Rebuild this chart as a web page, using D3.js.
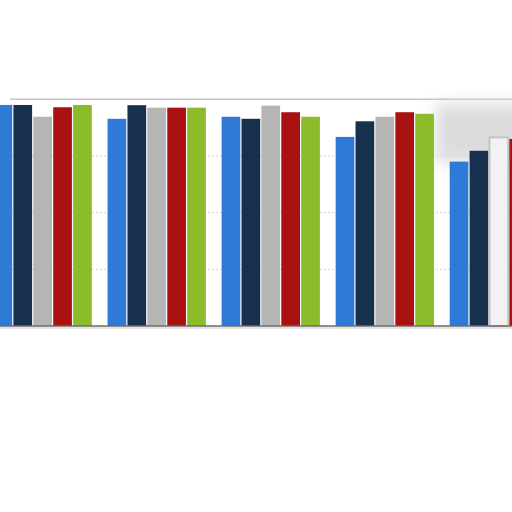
<!DOCTYPE html>
<html>
<head>
<meta charset="utf-8">
<script src="https://cdn.jsdelivr.net/npm/d3@7"></script>
<style>
  html, body { margin: 0; padding: 0; background: #ffffff; }
  svg { display: block; }
</style>
</head>
<body>
<svg id="chart" width="512" height="512"></svg>
<script>
// ---- data ----
const categories = ["Group 1", "Group 2", "Group 3", "Group 4", "Group 5"];
const seriesNames = ["Series A", "Series B", "Series C", "Series D", "Series E"];
const seriesA = [97.5, 91.4, 92.3, 83.4, 72.5];
const seriesB = [97.5, 97.4, 91.4, 90.3, 77.3];
const seriesC = [92.3, 96.3, 97.2, 92.3, 83.2];
const seriesD = [96.5, 96.3, 94.3, 94.3, 82.5];
const seriesE = [97.5, 96.3, 92.3, 93.6, 80.0];
const yTicks = [0, 25, 50, 75, 100];

const seriesValues = [seriesA, seriesB, seriesC, seriesD, seriesE];
const colors = ["#2f7ad6", "#17304d", "#b5b5b5", "#aa1212", "#8cbc2a"];

const svg = d3.select("#chart");
const defs = svg.append("defs");
const blur = defs.append("filter").attr("id", "soft").attr("x", "-30%").attr("y", "-30%").attr("width", "160%").attr("height", "160%");
blur.append("feGaussianBlur").attr("stdDeviation", 8);
const blur2 = defs.append("filter").attr("id", "soft2");
blur2.append("feGaussianBlur").attr("stdDeviation", 1.5);

const baseY = 326, topY = 99.3;
const y = d3.scaleLinear().domain([0, 100]).range([baseY, topY]);
const x0 = d3.scaleBand().domain(categories).range([-6.5, 548]).paddingInner(0.138).paddingOuter(0);
const x1 = d3.scaleBand().domain(seriesNames).range([0, x0.bandwidth()]).paddingInner(0.06).paddingOuter(0);

// top frame line with soft shadow
svg.append("line").attr("x1", 10).attr("x2", 512).attr("y1", y(100) + 1).attr("y2", y(100) + 1)
  .attr("stroke", "#d8d8d8").attr("stroke-width", 4).attr("filter", "url(#soft2)");
svg.append("line").attr("x1", 10).attr("x2", 512).attr("y1", y(100)).attr("y2", y(100))
  .attr("stroke", "#c4c4c4").attr("stroke-width", 1.5);

// gridlines
svg.append("g").selectAll("line").data(yTicks.filter(t => t > 0 && t < 100)).join("line")
  .attr("x1", 0).attr("x2", 512)
  .attr("y1", d => y(d)).attr("y2", d => y(d))
  .attr("stroke", "#d6d6d6").attr("stroke-width", 1).attr("stroke-dasharray", "2,2");

// soft highlight shadow around last group
svg.append("rect")
  .attr("x", x0("Group 5") - 14).attr("y", y(98))
  .attr("width", 110).attr("height", y(72) - y(98))
  .attr("fill", "#d6d6d6").attr("filter", "url(#soft)").attr("opacity", 0.85);

// bars
const groups = svg.append("g").selectAll("g").data(categories).join("g")
  .attr("transform", d => `translate(${x0(d)},0)`);

groups.selectAll("rect").data((c, gi) => seriesNames.map((s, si) => ({ s, si, gi, v: seriesValues[si][gi] })))
  .join("rect")
  .attr("x", d => x1(d.s))
  .attr("y", d => y(d.v))
  .attr("width", x1.bandwidth())
  .attr("height", d => baseY - y(d.v))
  .attr("fill", d => (d.gi === 4 && d.si === 2) ? "#f2f2f2" : colors[d.si])
  .attr("stroke", d => (d.gi === 4 && d.si === 2) ? "#c4c4c4" : "none")
  .attr("stroke-width", 2);

// baseline
svg.append("line").attr("x1", 0).attr("x2", 512).attr("y1", baseY).attr("y2", baseY)
  .attr("stroke", "#6a6a6a").attr("stroke-width", 1.5);
svg.append("line").attr("x1", 0).attr("x2", 512).attr("y1", baseY + 2).attr("y2", baseY + 2)
  .attr("stroke", "#e2e2e2").attr("stroke-width", 2);
</script>
</body>
</html>
